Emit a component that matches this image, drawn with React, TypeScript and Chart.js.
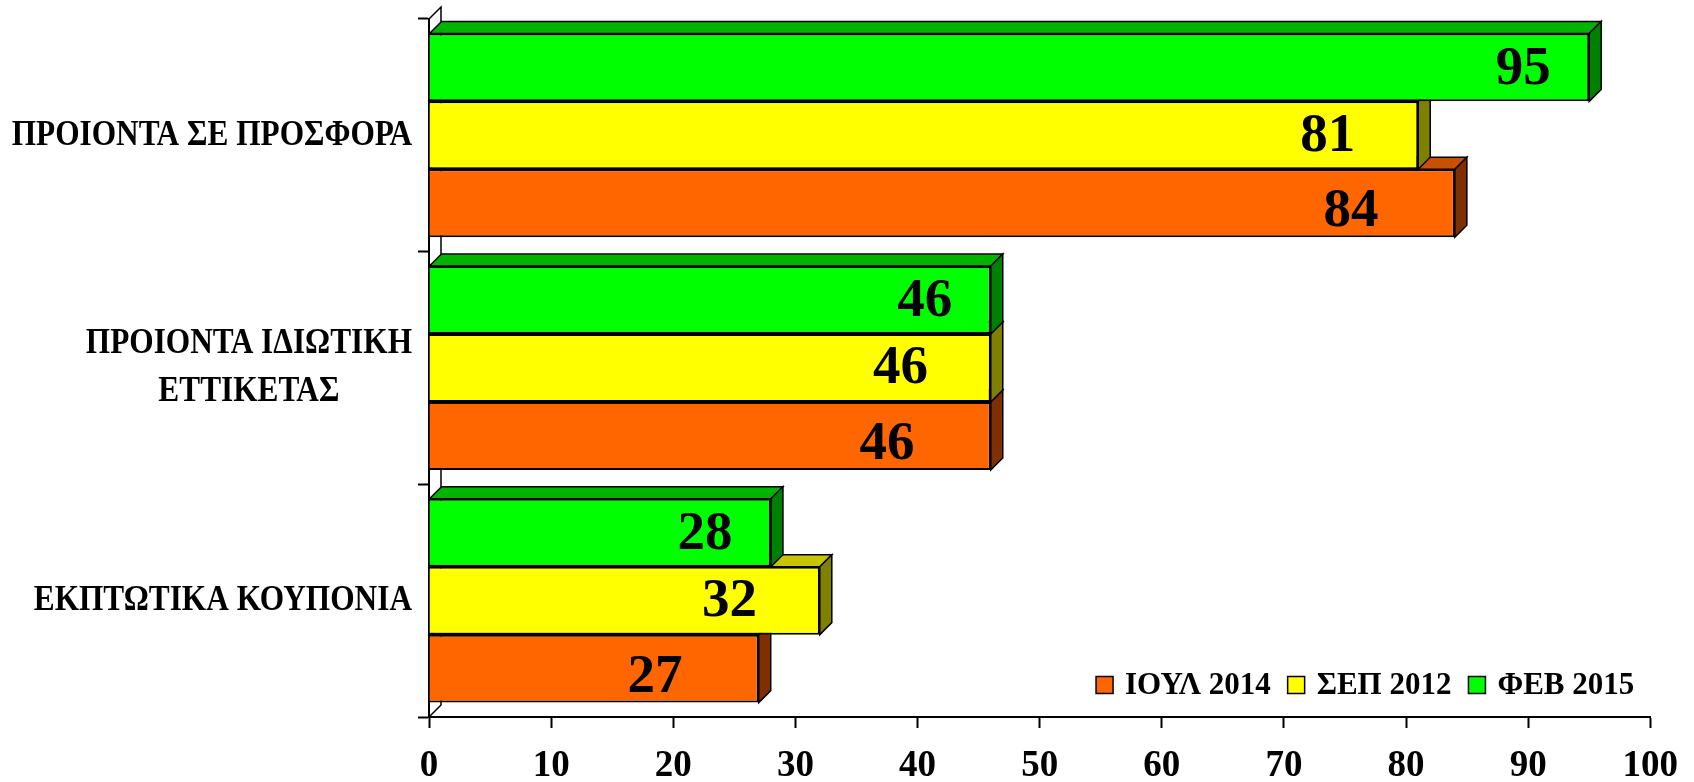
import React, { useEffect, useRef } from 'react';
import { Chart, registerables } from 'chart.js';

Chart.register(...registerables);

// ---- data ----
const categories: string[][] = [
  ['ΠΡΟΙΟΝΤΑ ΣΕ ΠΡΟΣΦΟΡΑ'],
  ['ΠΡΟΙΟΝΤΑ ΙΔΙΩΤΙΚΗ', 'ΕΤΤΙΚΕΤΑΣ'],
  ['ΕΚΠΤΩΤΙΚΑ ΚΟΥΠΟΝΙΑ'],
];
const seriesNames = ['ΦΕΒ 2015', 'ΣΕΠ 2012', 'ΙΟΥΛ 2014'];
const feb2015 = [95, 46, 28];
const sep2012 = [81, 46, 32];
const jul2014 = [84, 46, 27];
const xMin = 0;
const xMax = 100;
const xStep = 10;

// ---- styles ----
const FONT = "'Liberation Serif', 'Times New Roman', serif";
const frontColors = ['#00FF00', '#FFFF00', '#FF6600'];
const topColors = ['#00B400', '#C8C400', '#C85000'];
const sideColors = ['#008000', '#808000', '#803000'];
const labelInset = [5.4, 7.4, 8.5]; // label centre, in axis units left of bar end
const labelDy = [2, 1, 9];
const DEPTH = 12;

const threeDPlugin = {
  id: 'threeD',
  beforeDatasetsDraw(chart: any) {
    const ctx = chart.ctx;
    const { left, top, bottom } = chart.chartArea;
    ctx.save();
    ctx.strokeStyle = '#000';
    ctx.lineWidth = 1.5;
    ctx.beginPath();
    ctx.moveTo(left, top);
    ctx.lineTo(left + DEPTH, top - DEPTH);
    ctx.lineTo(left + DEPTH, bottom - DEPTH);
    ctx.lineTo(left, bottom);
    ctx.stroke();
    for (let i = chart.data.datasets.length - 1; i >= 0; i--) {
      const meta = chart.getDatasetMeta(i);
      meta.data.forEach((el: any) => {
        const { x, y, base, height } = el.getProps(['x', 'y', 'base', 'height'], true);
        const l = Math.min(x, base);
        const r = Math.max(x, base);
        const t = y - height / 2;
        const b = y + height / 2;
        ctx.beginPath();
        ctx.moveTo(l, t);
        ctx.lineTo(l + DEPTH, t - DEPTH);
        ctx.lineTo(r + DEPTH, t - DEPTH);
        ctx.lineTo(r, t);
        ctx.closePath();
        ctx.fillStyle = topColors[i];
        ctx.fill();
        ctx.stroke();
        ctx.beginPath();
        ctx.moveTo(r, t);
        ctx.lineTo(r + DEPTH, t - DEPTH);
        ctx.lineTo(r + DEPTH, b - DEPTH);
        ctx.lineTo(r, b);
        ctx.closePath();
        ctx.fillStyle = sideColors[i];
        ctx.fill();
        ctx.stroke();
      });
    }
    ctx.restore();
  },
  afterDatasetsDraw(chart: any) {
    const ctx = chart.ctx;
    const xScale = chart.scales.x;
    ctx.save();
    ctx.fillStyle = '#000';
    ctx.font = `bold 55px ${FONT}`;
    ctx.textAlign = 'center';
    ctx.textBaseline = 'middle';
    chart.data.datasets.forEach((ds: any, i: number) => {
      const meta = chart.getDatasetMeta(i);
      meta.data.forEach((el: any, j: number) => {
        const v = ds.data[j];
        const cx = xScale.getPixelForValue(v - labelInset[i]);
        ctx.fillText(String(v), cx, el.y + labelDy[i]);
      });
    });
    ctx.restore();
  },
  afterDraw(chart: any) {
    const ctx = chart.ctx;
    const yScale = chart.scales.y;
    const { left, right, bottom } = chart.chartArea;
    ctx.save();
    ctx.fillStyle = '#000';
    ctx.font = `bold 36px ${FONT}`;
    ctx.textAlign = 'center';
    ctx.textBaseline = 'middle';
    const sx = 0.87;
    const lineGap = 48;
    categories.forEach((lines, i) => {
      const cy = yScale.getPixelForValue(i);
      const maxW = Math.max(...lines.map((s) => ctx.measureText(s).width)) * sx;
      const cx = left - 17 - maxW / 2;
      lines.forEach((s, k) => {
        const ly = cy + (k - (lines.length - 1) / 2) * lineGap;
        ctx.save();
        ctx.translate(cx, ly);
        ctx.scale(sx, 1);
        ctx.fillText(s, 0, 0);
        ctx.restore();
      });
    });
    ctx.restore();

    // legend (bottom-right, inside plot)
    ctx.save();
    ctx.font = `bold 31px ${FONT}`;
    ctx.textBaseline = 'middle';
    ctx.textAlign = 'left';
    const order = [2, 1, 0];
    const box = 17;
    const gapText = 12;
    const gapItem = 17;
    const widths = order.map((i) => ctx.measureText(seriesNames[i]).width);
    const total = widths.reduce((a, b) => a + b, 0) + order.length * (box + gapText) + (order.length - 1) * gapItem;
    let x = right - 16 - total;
    const ly = bottom - 32;
    order.forEach((i, k) => {
      ctx.fillStyle = frontColors[i];
      ctx.fillRect(x, ly - box / 2, box, box);
      ctx.strokeStyle = '#000';
      ctx.lineWidth = 1.5;
      ctx.strokeRect(x, ly - box / 2, box, box);
      x += box + gapText;
      ctx.fillStyle = '#000';
      ctx.fillText(seriesNames[i], x, ly + 1);
      x += widths[k] + gapItem;
    });
    ctx.restore();
  },
};

export default function App() {
  const ref = useRef<HTMLCanvasElement | null>(null);
  useEffect(() => {
    document.body.style.margin = '0';
    const canvas = ref.current!;
    const chart = new Chart(canvas, {
      type: 'bar',
      data: {
        labels: categories.map((c) => c.join(' ')),
        datasets: [
          { label: seriesNames[0], data: feb2015, backgroundColor: frontColors[0], borderColor: '#000', borderWidth: 2 },
          { label: seriesNames[1], data: sep2012, backgroundColor: frontColors[1], borderColor: '#000', borderWidth: 2 },
          { label: seriesNames[2], data: jul2014, backgroundColor: frontColors[2], borderColor: '#000', borderWidth: 2 },
        ],
      },
      options: {
        indexAxis: 'y',
        responsive: false,
        animation: false,
        devicePixelRatio: 1,
        layout: { padding: { top: 19, right: 43, left: 0, bottom: 0 } },
        datasets: { bar: { categoryPercentage: 0.876, barPercentage: 1.0 } },
        plugins: {
          legend: { display: false },
          tooltip: { enabled: false },
        },
        scales: {
          x: {
            type: 'linear',
            min: xMin,
            max: xMax,
            ticks: {
              stepSize: xStep,
              color: '#000',
              font: { family: FONT, size: 37, weight: 'bold' },
              padding: 16,
              maxRotation: 0,
            },
            grid: {
              drawOnChartArea: false,
              drawTicks: true,
              tickLength: 11,
              tickWidth: 2,
              tickColor: '#000',
              color: '#000',
            },
            border: { display: true, color: '#000', width: 2 },
            afterFit: (s: any) => {
              s.height = 65;
            },
          },
          y: {
            type: 'category',
            ticks: { callback: () => '', color: '#000' },
            grid: {
              offset: true,
              drawOnChartArea: false,
              drawTicks: true,
              tickLength: 11,
              tickWidth: 2,
              tickColor: '#000',
              color: '#000',
            },
            border: { display: true, color: '#000', width: 2 },
            afterFit: (s: any) => {
              s.width = 429;
            },
          },
        },
      },
      plugins: [threeDPlugin],
    } as any);
    return () => chart.destroy();
  }, []);
  return (
    <div style={{ position: 'fixed', left: 0, top: 0, width: 1694, height: 782, background: '#fff' }}>
      <canvas ref={ref} width={1694} height={782} style={{ width: 1694, height: 782, display: 'block' }} />
    </div>
  );
}
